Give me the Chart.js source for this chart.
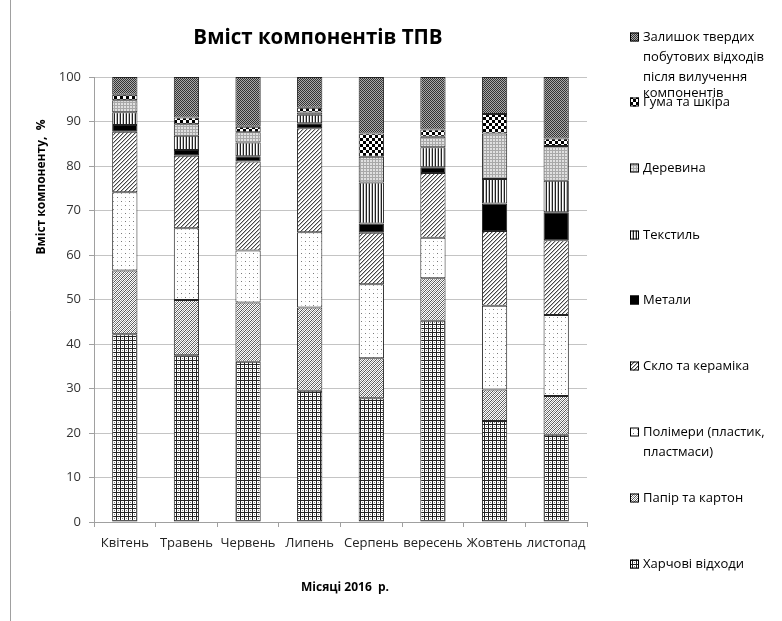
<!DOCTYPE html>
<html lang="uk">
<head>
  <meta charset="UTF-8">
  <title>Вміст компонентів ТПВ</title>
  <script src="https://cdn.jsdelivr.net/npm/chart.js"></script>
  <style>
    html, body { margin: 0; padding: 0; background: #fff; }
    #chart { display: block; }
  </style>
</head>
<body>
  <canvas id="chart" width="782" height="621"></canvas>

  <script>
    // місяці та частки компонентів, %
    const months = ['Квітень', 'Травень', 'Червень', 'Липень', 'Серпень', 'вересень', 'Жовтень', 'листопад'];
    const food     = [42.2, 37.5, 36.0, 29.5, 27.8, 45.2, 22.7, 19.6];
    const paper    = [14.3, 12.4, 13.3, 18.7,  9.0,  9.6,  7.1,  8.7];
    const polymers = [17.6, 16.1, 11.7, 16.9, 16.6,  9.1, 18.8, 18.2];
    const glass    = [13.6, 16.3, 20.0, 23.4, 11.6, 14.5, 16.8, 16.8];
    const metals   = [ 1.5,  1.3,  1.2,  1.1,  2.1,  1.3,  6.2,  6.3];
    const textile  = [ 2.9,  3.2,  3.1,  1.9,  9.2,  4.5,  5.5,  7.1];
    const wood     = [ 2.7,  2.6,  2.3,  0.5,  5.8,  2.4, 10.2,  7.8];
    const rubber   = [ 1.2,  1.5,  1.2,  1.1,  5.2,  1.6,  4.4,  1.7];
    const residual = [ 4.0,  9.1, 11.2,  6.9, 12.7, 11.8,  8.3, 13.8];

    const seriesNames = [
      ['Харчові відходи'],
      ['Папір та картон'],
      ['Полімери (пластик,', 'пластмаси)'],
      ['Скло та кераміка'],
      ['Метали'],
      ['Текстиль'],
      ['Деревина'],
      ['Гума та шкіра'],
      ['Залишок твердих', 'побутових відходів', 'після вилучення', 'компонентів']
    ];
    const yTicks = [0, 10, 20, 30, 40, 50, 60, 70, 80, 90, 100];

    const FONT = '"Open Sans", "Noto Sans", sans-serif';

    function makePattern(w, h, draw) {
      const c = document.createElement('canvas');
      c.width = w; c.height = h;
      const g = c.getContext('2d');
      draw(g, w, h);
      return g.createPattern(c, 'repeat');
    }

    const patterns = [
      // сітка
      makePattern(4, 4, (g) => {
        g.fillStyle = '#fff'; g.fillRect(0, 0, 4, 4);
        g.fillStyle = '#222'; g.fillRect(0, 0, 4, 1); g.fillRect(0, 0, 1, 4);
        g.fillStyle = '#888'; g.fillRect(2, 2, 1, 1);
      }),
      // густа діагональ
      makePattern(4, 4, (g) => {
        g.fillStyle = '#fff'; g.fillRect(0, 0, 4, 4);
        g.fillStyle = '#555';
        for (let i = 0; i < 4; i++) { g.fillRect(3 - i, i, 1, 1); }
        g.fillStyle = '#999';
        for (let i = 0; i < 4; i++) { g.fillRect((5 - i) % 4, i, 1, 1); }
      }),
      // точки
      makePattern(8, 8, (g) => {
        g.fillStyle = '#fff'; g.fillRect(0, 0, 8, 8);
        g.fillStyle = '#777'; g.fillRect(1, 1, 1, 1); g.fillRect(5, 5, 1, 1);
        g.fillStyle = '#ccc'; g.fillRect(5, 1, 1, 1); g.fillRect(1, 5, 1, 1);
      }),
      // діагональ
      makePattern(4, 4, (g) => {
        g.fillStyle = '#fff'; g.fillRect(0, 0, 4, 4);
        g.fillStyle = '#444';
        for (let i = 0; i < 4; i++) { g.fillRect(3 - i, i, 1, 1); }
        g.fillStyle = '#bbb';
        for (let i = 0; i < 4; i++) { g.fillRect((4 - i) % 4, i, 1, 1); }
      }),
      '#000',
      // вертикальні лінії
      makePattern(3, 3, (g) => {
        g.fillStyle = '#fff'; g.fillRect(0, 0, 3, 3);
        g.fillStyle = '#222'; g.fillRect(0, 0, 1, 3);
        g.fillStyle = '#bbb'; g.fillRect(2, 0, 1, 3);
      }),
      // світло-сірий
      makePattern(3, 3, (g) => {
        g.fillStyle = '#e0e0e0'; g.fillRect(0, 0, 3, 3);
        g.fillStyle = '#a8a8a8'; g.fillRect(0, 0, 1, 3); g.fillRect(0, 0, 3, 1);
      }),
      // шахівниця
      makePattern(6, 6, (g) => {
        g.fillStyle = '#fff'; g.fillRect(0, 0, 6, 6);
        g.fillStyle = '#000'; g.fillRect(0, 0, 3, 3); g.fillRect(3, 3, 3, 3);
      }),
      // темна дрібна шахівниця
      makePattern(2, 2, (g) => {
        g.fillStyle = '#aaa'; g.fillRect(0, 0, 2, 2);
        g.fillStyle = '#333'; g.fillRect(0, 0, 1, 1); g.fillRect(1, 1, 1, 1);
      })
    ];

    const values = [food, paper, polymers, glass, metals, textile, wood, rubber, residual];

    const datasets = values.map((v, i) => ({
      label: seriesNames[i].join(' '),
      data: v,
      backgroundColor: patterns[i],
      borderColor: '#222',
      borderWidth: 1,
      borderSkipped: false,
      barPercentage: 0.41,
      categoryPercentage: 1
    }));

    // позиції підписів легенди (центр першого рядка)
    const legendY = [564, 498, 432, 366, 300, 235, 168, 102, 37];

    const extras = {
      id: 'extras',
      afterDraw(chart) {
        const ctx = chart.ctx;
        ctx.save();
        // рамка зліва
        ctx.strokeStyle = '#a0a0a0';
        ctx.lineWidth = 1;
        ctx.beginPath(); ctx.moveTo(10.5, 0); ctx.lineTo(10.5, 621); ctx.stroke();

        // заголовок
        ctx.fillStyle = '#000';
        ctx.textAlign = 'center';
        ctx.textBaseline = 'middle';
        ctx.font = 'bold 20.5px ' + FONT;
        ctx.fillText('Вміст компонентів ТПВ', 318, 38);

        // підпис осі X
        ctx.font = 'bold 12px ' + FONT;
        ctx.fillText('Місяці 2016  р.', 345, 588);

        // підпис осі Y
        ctx.save();
        ctx.translate(42, 187);
        ctx.rotate(-Math.PI / 2);
        ctx.fillText('Вміст компоненту,  %', 0, 0);
        ctx.restore();

        // легенда
        ctx.textAlign = 'left';
        ctx.font = '13px ' + FONT;
        chart.data.datasets.forEach((ds, i) => {
          const y = legendY[i];
          ctx.fillStyle = ds.backgroundColor;
          ctx.fillRect(630, y - 4.5, 9, 9);
          ctx.strokeStyle = '#000';
          ctx.strokeRect(630.5, y - 4, 8, 8);
          ctx.fillStyle = '#000';
          seriesNames[i].forEach((line, k) => {
            const dy = k === 3 ? 56 : k * 20;
            ctx.fillText(line, 643, y + dy);
          });
        });
        ctx.restore();
      }
    };

    new Chart(document.getElementById('chart'), {
      type: 'bar',
      data: { labels: months, datasets: datasets },
      options: {
        responsive: false,
        animation: false,
        layout: { padding: { left: 0, top: 77, right: 195, bottom: 0 } },
        plugins: {
          legend: { display: false },
          title: { display: false },
          tooltip: { enabled: false }
        },
        scales: {
          x: {
            stacked: true,
            offset: true,
            grid: { display: true, drawOnChartArea: false, drawTicks: true, tickLength: 5, offset: true, color: '#a0a0a0' },
            border: { color: '#a0a0a0' },
            ticks: { color: '#222', padding: 8, maxRotation: 0, minRotation: 0, autoSkip: false, font: { family: FONT, size: 13 } },
            afterFit: (s) => { s.height = 99; }
          },
          y: {
            stacked: true,
            min: 0,
            max: 100,
            afterBuildTicks: (s) => { s.ticks = yTicks.map(v => ({ value: v })); },
            grid: { color: '#c4c4c4', tickLength: 5, tickColor: '#a0a0a0' },
            border: { color: '#a0a0a0' },
            ticks: { color: '#333', padding: 8, font: { family: FONT, size: 13 } },
            afterFit: (s) => { s.width = 94; }
          }
        }
      },
      plugins: [extras]
    });
  </script>
</body>
</html>
